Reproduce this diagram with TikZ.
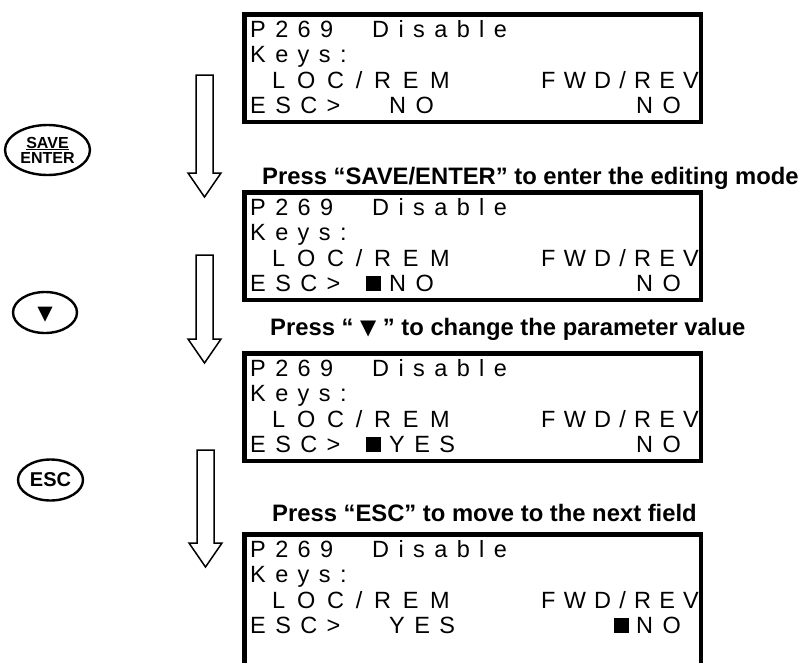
\documentclass[tikz,border=0pt]{standalone}
\usepackage{fontspec}
\setmainfont{Liberation Sans}
\newfontfamily\lcdfont{Liberation Sans}[LetterSpace=40]
\newfontfamily\lcdwide{Liberation Sans}[LetterSpace=50]
\newfontfamily\lcdtight{Liberation Sans}[LetterSpace=35]
\newfontfamily\symfont{DejaVu Sans}
\usetikzlibrary{shapes.geometric}
\newcommand\hollowarrow[5]{% name, x, ytop, ybase, ytip
  \coordinate (#1) at (#2,#3);
  \draw[blockarrow] ([xshift=-8.5pt]#1) -- ([xshift=8.5pt]#1) -- ([xshift=8.5pt]#1 |- 0,#4)
    -- ([xshift=16.5pt]#1 |- 0,#4) -- (#1 |- 0,#5) -- ([xshift=-16.5pt]#1 |- 0,#4)
    -- ([xshift=-8.5pt]#1 |- 0,#4) -- cycle;}
\begin{document}
\begin{tikzpicture}[x=1pt,y=-1pt,
  lcd/.style={font=\lcdfont\fontsize{23.5}{23.5}\selectfont, anchor=base west, inner sep=0pt},
  captext/.style={font=\bfseries\fontsize{23.8}{24}\selectfont, anchor=base west, inner sep=0pt},
  lcdbox/.style={draw, line width=4.5pt, minimum width=456.5pt, minimum height=107.5pt, inner sep=0pt},
  cursor/.style={fill, inner sep=0pt, minimum size=15pt, anchor=south west},
  key/.style={draw, ellipse, line width=2.4pt, inner sep=0pt},
  blockarrow/.style={draw, line width=1.5pt, fill=white, line join=miter}]
\useasboundingbox (0,0) rectangle (803,662);
% LCD boxes with common lines
\foreach \t [count=\i] in {12,190,351,532} {
  \ifnum\i<4
    \node[lcdbox] (box\i) at (472.5,\t+56) {};
  \else
    \node[lcdbox, minimum height=135.5pt] (box\i) at (472.5,\t+70) {};
  \fi
  \node[lcd] (pnum\i) at (250,\t+25.5) {P269};
  \node[lcd] (dis\i) at (372,\t+25.5) {Disable};
  \node[lcd] (keys\i) at (250,\t+50.5) {Keys:};
  \node[lcd, font=\lcdwide\fontsize{23.5}{23.5}\selectfont] (loc\i) at (272,\t+76.5) {LOC/REM};
  \node[lcd, font=\lcdtight\fontsize{23.5}{23.5}\selectfont] (fwd\i) at (541,\t+76.5) {FWD/REV};
  \node[lcd] (esc\i) at (250,\t+101.5) {ESC>};
}
% fourth lines
\node[lcd] (va1) at (389,113.5) {NO};
\node[lcd] (vb1) at (636,113.5) {NO};
\node[cursor] (cur2) at (366,291.5) {};
\node[lcd] (va2) at (389,291.5) {NO};
\node[lcd] (vb2) at (636,291.5) {NO};
\node[cursor] (cur3) at (366,452.5) {};
\node[lcd] (va3) at (389,452.5) {YES};
\node[lcd] (vb3) at (636,452.5) {NO};
\node[lcd] (va4) at (389,633.5) {YES};
\node[cursor] (cur4) at (614,633.5) {};
\node[lcd] (vb4) at (636,633.5) {NO};
% captions
\node[captext] (cap1) at (262,184) {Press “SAVE/ENTER” to enter the editing mode};
\node[captext] (cap2) at (270,335) {Press “ {\symfont\fontsize{21}{21}\selectfont\raisebox{1pt}{▼}} ” to change the parameter value};
\node[captext] (cap3) at (272,521) {Press “ESC” to move to the next field};
% keys
\node[key, minimum width=85pt, minimum height=50pt, align=center,
      font=\bfseries\fontsize{16}{16}\selectfont] (kenter) at (47.5,150)
      {\underline{SAVE}\\[-1pt]ENTER};
\node[key, minimum width=64pt, minimum height=41pt] (kdown) at (45,312.5) {};
\fill ([shift={(-7.5pt,6pt)}]kdown.center) -- ++(15,0) -- ++(-7.5,15) -- cycle;
\node[key, minimum width=65pt, minimum height=41pt,
      font=\bfseries\fontsize{20}{20}\selectfont] (kesc) at (50.5,480) {ESC};
% hollow arrows
\hollowarrow{a1}{204.5}{75}{173}{197}
\hollowarrow{a2}{204.5}{255}{339}{363}
\hollowarrow{a3}{205.5}{450}{543}{567}
\end{tikzpicture}
\end{document}
